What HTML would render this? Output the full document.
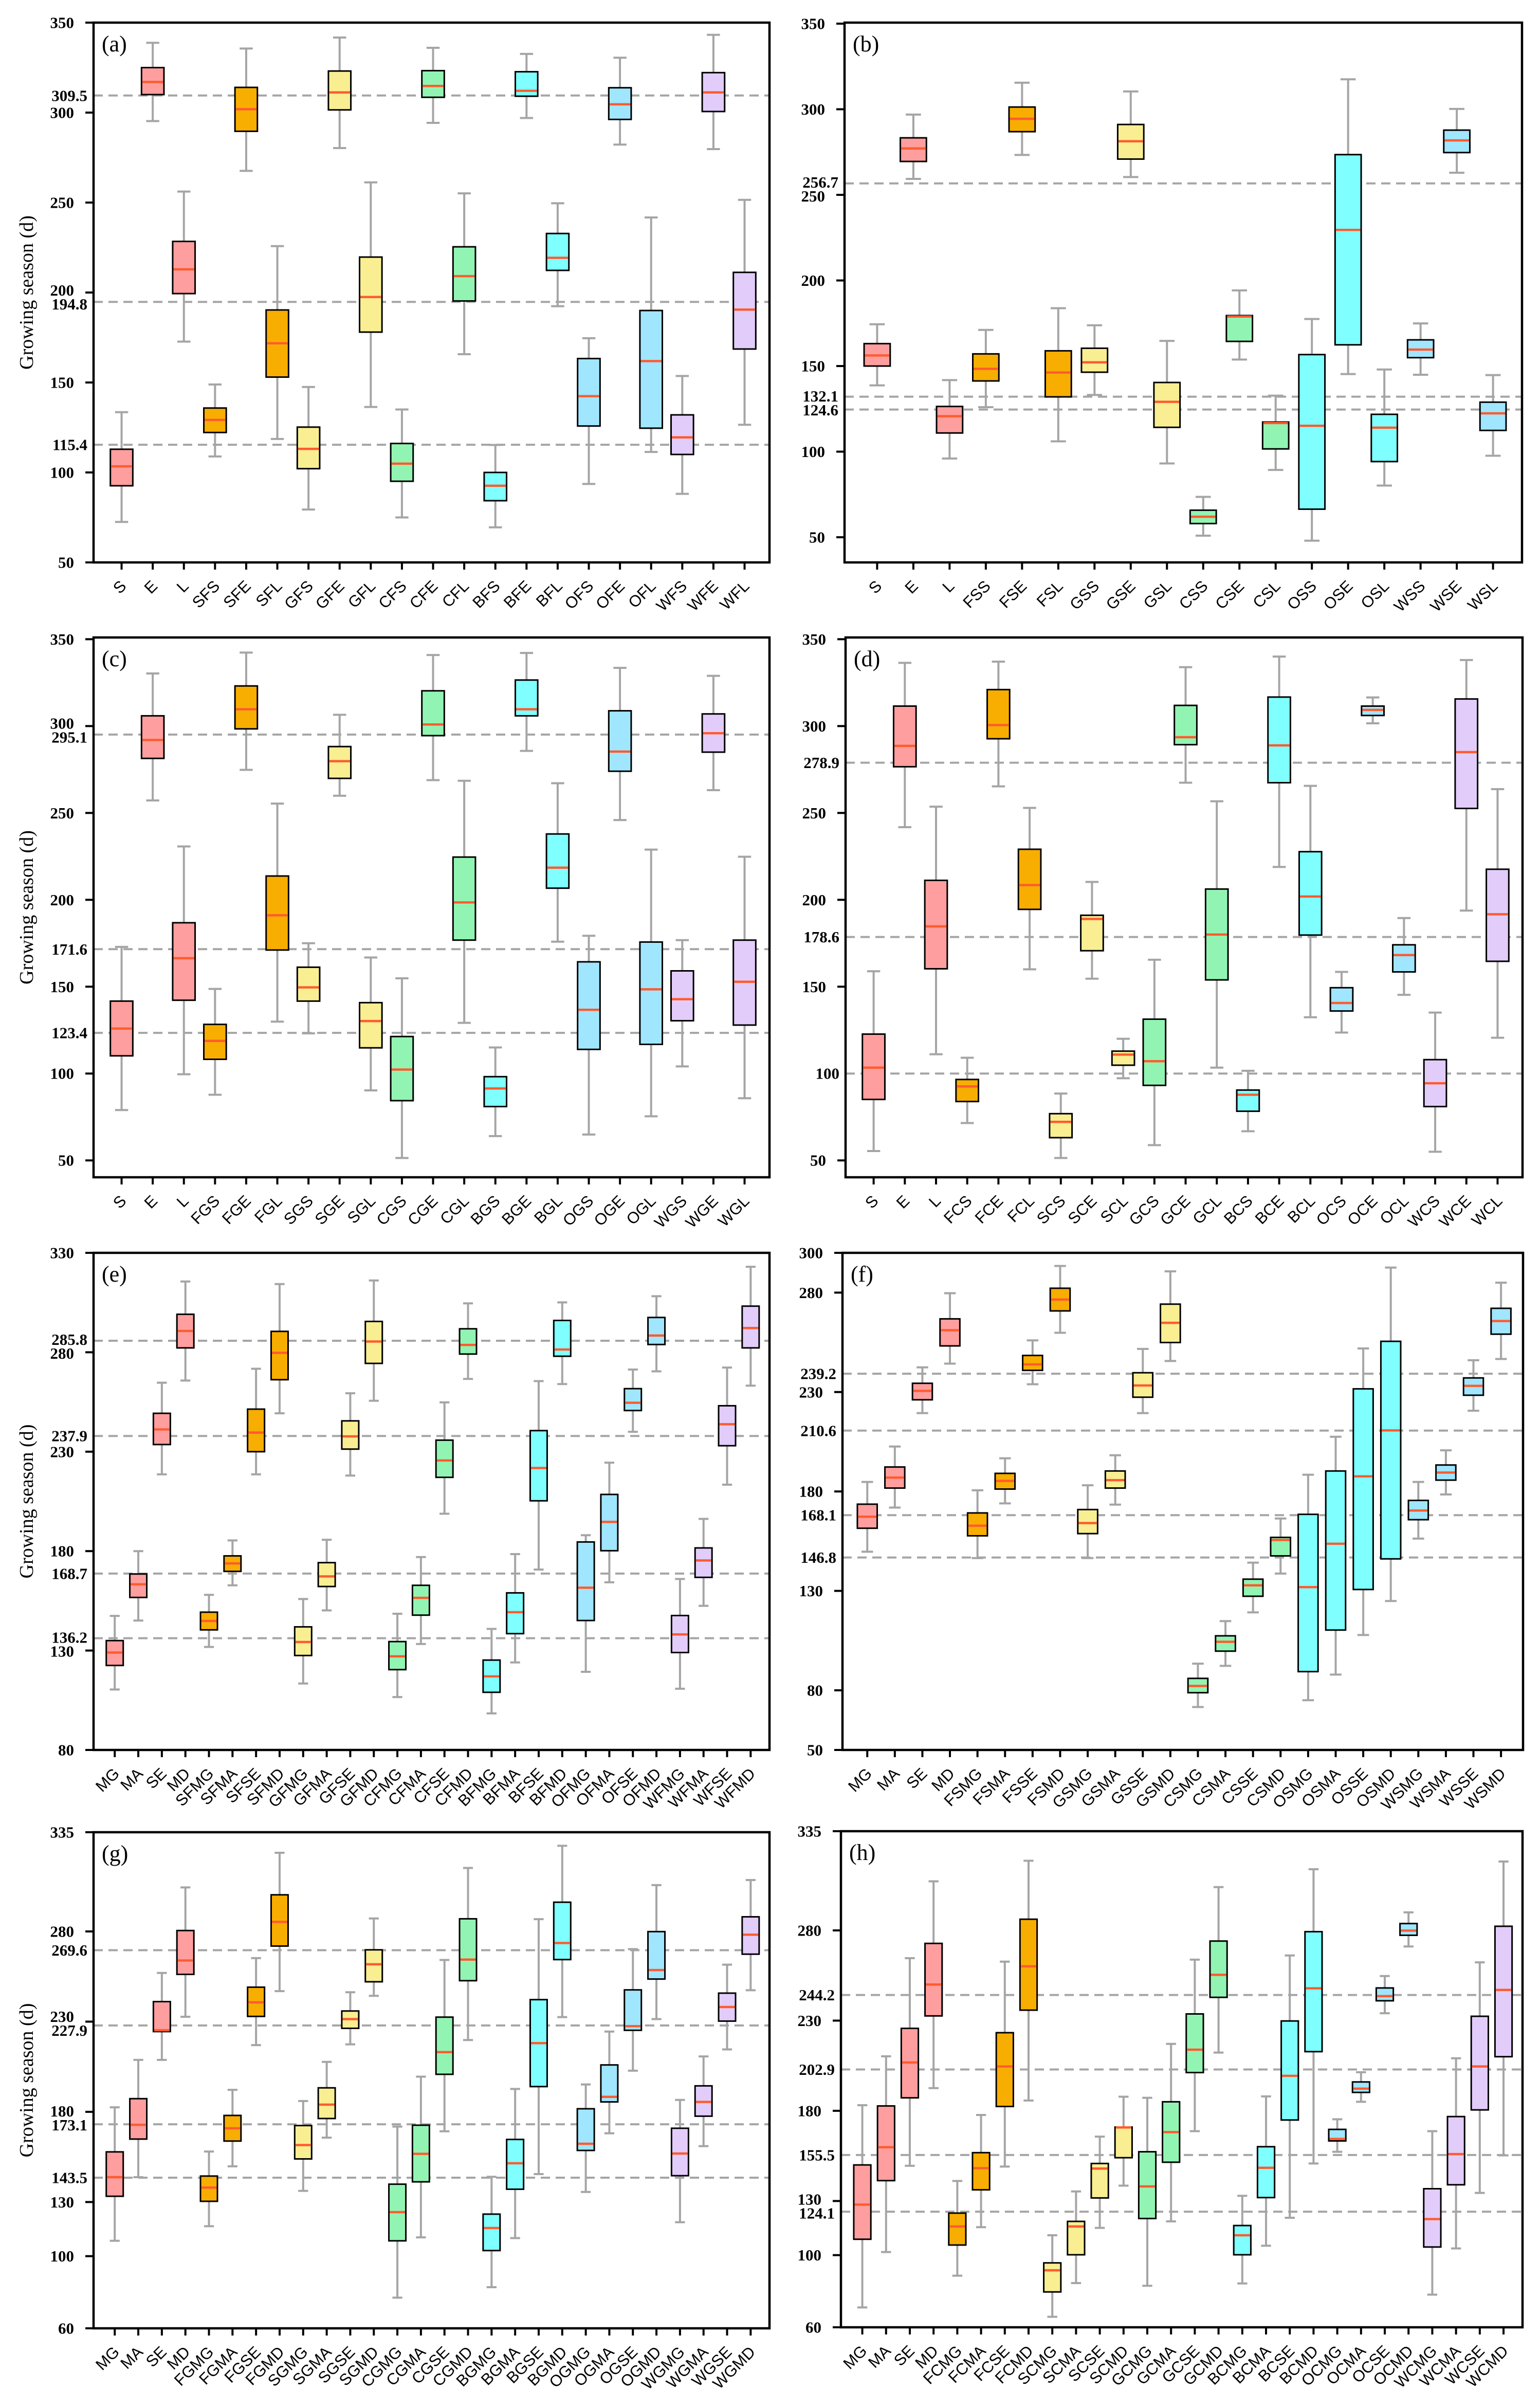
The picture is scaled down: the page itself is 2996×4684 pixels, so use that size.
<!DOCTYPE html>
<html><head><meta charset="utf-8"><title>Growing season box plots</title>
<style>
html,body{margin:0;padding:0;background:#fff;}
svg{display:block;}
.tl{font-family:"Liberation Serif",serif;font-weight:bold;font-size:31px;fill:#000;}
.xl{font-family:"Liberation Sans",sans-serif;font-size:31px;fill:#000;}
.yt{font-family:"Liberation Serif",serif;font-size:38px;fill:#000;}
.pl{font-family:"Liberation Serif",serif;font-size:44px;fill:#000;}
</style></head>
<body>
<svg id="fig" xmlns="http://www.w3.org/2000/svg" width="2996" height="4684" viewBox="0 0 2996 4684">
<rect x="0" y="0" width="2996" height="4684" fill="#fff"/>
</svg>
<script>
// ---------- Panel (a) ----------
const aCats=["S","E","L","SFS","SFE","SFL","GFS","GFE","GFL","CFS","CFE","CFL","BFS","BFE","BFL","OFS","OFE","OFL","WFS","WFE","WFL"];
const aLo =[72.5,295.3,172.7,108.9,267.6,118.6,79.4,280.3,136.4,75.0,294.3,165.7,69.5,297.0,192.4,93.6,282.2,111.4,88.1,279.7,126.5];
const aQ1 =[92.6,310.0,199.4,122.2,289.6,153.0,102.1,301.5,178.0,95.1,308.5,195.3,84.3,309.1,212.3,125.8,296.2,124.6,110.0,300.6,168.6];
const aMed=[103.4,317.0,212.9,129.2,301.9,171.8,113.1,311.2,197.5,104.9,314.8,209.1,92.6,312.1,219.3,142.4,304.6,161.9,119.5,311.2,190.5];
const aQ3 =[112.9,325.0,228.4,135.8,314.0,190.3,125.2,323.1,219.7,116.1,323.3,225.4,100.0,322.7,232.8,163.3,313.8,190.0,132.0,322.2,211.2];
const aHi =[133.5,338.8,256.1,148.9,335.6,225.8,147.5,341.7,261.2,135.0,336.0,255.1,115.3,332.6,249.6,174.6,330.5,241.7,153.6,343.2,251.5];
const aTicks=[50,100,150,200,250,300,350];
const aRefs=[309.5,194.8,115.4];
// ---------- Panel (b) ----------
const bCats=["S","E","L","FSS","FSE","FSL","GSS","GSE","GSL","CSS","CSE","CSL","OSS","OSE","OSL","WSS","WSE","WSL"];
const bLo =[138.7,259.3,96.0,126.0,273.3,106.0,133.1,260.4,93.1,50.9,153.8,89.3,48.0,145.3,80.2,144.9,262.9,97.6];
const bQ1 =[150.0,269.5,110.9,141.3,286.9,132.0,146.4,270.9,114.2,58.0,164.4,101.6,66.4,162.4,94.2,154.9,274.7,112.4];
const bMed=[156.2,277.1,120.7,148.4,294.4,146.2,152.2,281.3,129.1,62.0,178.9,116.7,115.1,229.5,114.0,159.6,281.8,122.4];
const bQ3 =[163.1,283.3,126.4,157.1,301.3,158.9,160.4,291.1,140.4,65.8,179.5,117.3,156.7,273.5,121.8,165.3,287.8,128.9];
const bHi =[174.4,296.9,141.8,171.1,315.5,183.8,173.8,310.4,164.7,73.6,194.2,132.7,177.5,317.5,148.0,174.9,300.2,144.7];
const bTicks=[50,100,150,200,250,300,350];
const bRefs=[256.7,132.1,124.6];
// ---------- Panel (c) ----------
const cCats=["S","E","L","FGS","FGE","FGL","SGS","SGE","SGL","CGS","CGE","CGL","BGS","BGE","BGL","OGS","OGE","OGL","WGS","WGE","WGL"];
const cLo =[79.0,257.2,99.6,87.8,274.8,129.9,123.1,259.9,90.3,51.4,268.9,129.2,64.0,285.7,175.9,64.9,245.9,75.4,104.1,263.1,85.8];
const cQ1 =[110.2,281.4,142.2,108.2,298.4,171.1,141.7,269.9,114.8,84.4,294.5,176.8,81.0,305.9,206.7,113.9,274.0,116.8,130.4,285.0,127.9];
const cMed=[125.9,292.0,166.4,118.8,309.7,191.1,149.6,279.8,130.2,102.3,300.9,198.5,91.4,309.7,218.5,136.7,285.3,148.5,142.8,295.9,152.8];
const cQ3 =[141.7,305.9,186.8,128.3,323.1,213.7,161.2,288.2,140.8,121.3,320.3,224.6,98.2,326.5,237.9,164.3,308.8,175.7,159.1,307.0,176.8];
const cHi =[172.9,330.3,230.7,148.7,342.3,255.4,175.0,306.5,166.8,154.8,340.9,268.5,115.0,342.1,267.1,179.3,333.5,228.9,176.8,328.9,224.8];
const cTicks=[50,100,150,200,250,300,350];
const cRefs=[295.1,171.6,123.4];
// ---------- Panel (d) ----------
const dCats=["S","E","L","FCS","FCE","FCL","SCS","SCE","SCL","GCS","GCE","GCL","BCS","BCE","BCL","OCS","OCE","OCL","WCS","WCE","WCL"];
const dLo =[55.4,241.8,111.1,71.5,265.3,160.0,51.4,154.6,97.3,58.8,267.4,103.4,66.8,218.9,132.4,123.6,301.6,145.3,55.0,193.8,120.6];
const dQ1 =[85.1,276.6,160.3,83.9,292.7,194.5,63.1,170.7,104.8,93.2,289.3,153.9,78.3,267.4,179.7,136.0,306.1,158.5,81.0,252.6,164.6];
const dMed=[103.4,288.6,184.7,92.6,300.6,208.5,72.2,189.0,110.9,107.1,293.6,180.0,87.8,288.9,201.9,140.6,309.3,168.2,94.4,285.0,191.7];
const dQ3 =[122.7,311.5,211.2,96.6,321.0,229.1,76.9,191.1,112.9,131.3,311.9,206.2,90.5,316.7,227.7,149.4,311.5,174.1,108.0,315.6,217.6];
const dHi =[158.9,336.4,253.6,109.1,337.1,252.9,88.5,210.3,120.0,165.5,333.9,256.7,101.6,340.0,265.6,158.5,316.5,189.5,135.1,338.0,263.7];
const dTicks=[50,150,200,250,300,350];
const dRefs=[278.9,178.6,100];
// ---------- Panel (e) ----------
const eCats=["MG","MA","SE","MD","SFMG","SFMA","SFSE","SFMD","GFMG","GFMA","GFSE","GFMD","CFMG","CFMA","CFSE","CFMD","BFMG","BFMA","BFSE","BFMD","OFMG","OFMA","OFSE","OFMD","WFMG","WFMA","WFSE","WFMD"];
const eLo =[110.4,145.1,218.6,265.8,131.8,162.8,218.6,249.3,113.4,150.2,218.0,255.6,106.6,133.3,198.8,266.6,98.4,124.0,170.7,264.0,119.3,164.3,240.0,270.4,110.8,152.5,213.4,263.2];
const eQ1 =[122.5,156.7,233.6,282.2,140.4,169.8,230.0,266.2,127.5,162.2,231.3,274.4,120.4,147.8,217.1,279.1,109.0,138.5,205.3,278.0,145.1,180.2,250.7,283.9,129.0,166.8,233.0,282.2];
const eMed=[129.0,163.3,241.2,290.7,144.9,173.8,239.6,279.7,134.3,167.3,237.7,285.4,127.1,156.5,225.6,283.7,117.0,149.3,221.8,281.4,161.6,194.7,254.6,288.4,138.1,175.3,243.8,292.2];
const eQ3 =[135.0,168.5,249.3,299.1,149.3,177.6,251.4,290.5,141.9,174.2,245.5,295.5,134.5,162.8,235.8,291.8,125.2,159.0,240.6,296.0,184.6,208.5,261.7,297.5,147.6,181.6,253.1,303.2];
const eHi =[147.4,180.0,264.7,315.6,158.0,185.4,271.7,314.3,155.9,185.7,259.4,316.1,148.5,177.0,254.8,304.6,140.9,178.5,265.5,305.1,188.0,224.5,271.3,308.2,166.0,196.2,272.3,323.0];
const eTicks=[80,130,180,230,280,330];
const eRefs=[285.8,237.9,168.7,136.2];
// ---------- Panel (f) ----------
const fCats=["MG","MA","SE","MD","FSMG","FSMA","FSSE","FSMD","GSMG","GSMA","GSSE","GSMD","CSMG","CSMA","CSSE","CSMD","OSMG","OSMA","OSSE","OSMD","WSMG","WSMA","WSSE","WSMD"];
const fLo =[149.7,171.9,219.4,244.3,146.5,174.0,233.9,259.8,146.5,173.4,219.4,245.6,71.6,92.3,119.2,138.7,75.0,87.9,107.8,124.9,156.3,178.5,220.6,246.6];
const fQ1 =[161.5,181.7,226.1,253.2,157.7,181.2,240.9,270.8,158.8,181.7,227.4,254.9,78.8,99.7,127.3,147.6,89.4,110.3,130.7,146.1,165.8,185.7,228.4,259.1];
const fMed=[167.3,187.0,230.6,261.1,162.8,185.3,243.9,276.5,164.1,185.7,233.3,264.8,82.2,104.4,132.8,155.6,131.9,153.7,187.6,210.7,170.4,189.5,233.1,265.7];
const fQ3 =[173.6,192.3,234.4,266.8,169.2,189.1,248.4,282.2,170.9,190.3,239.7,274.2,86.0,107.4,135.9,156.9,168.5,190.3,231.6,255.5,175.5,193.3,237.1,272.1];
const fHi =[184.8,202.6,242.4,279.7,180.6,196.7,256.0,293.4,183.1,198.2,251.7,290.7,93.4,114.8,144.2,166.4,188.4,207.5,251.9,292.6,184.8,200.7,246.0,285.0];
const fTicks=[50,80,130,180,230,280,300];
const fRefs=[239.2,210.6,168.1,146.8];
// ---------- Panel (g) ----------
const gCats=["MG","MA","SE","MD","FGMG","FGMA","FGSE","FGMD","SGMG","SGMA","SGSE","SGMD","CGMG","CGMA","CGSE","CGMD","BGMG","BGMA","BGSE","BGMD","OGMG","OGMA","OGSE","OGMD","WGMG","WGMA","WGSE","WGMD"];
const gLo =[108.5,143.8,208.8,232.7,116.6,149.8,217.0,246.9,136.2,165.7,217.4,244.3,77.0,110.4,169.2,219.8,82.8,110.0,145.5,232.5,135.6,168.1,202.8,231.4,118.8,161.0,214.6,247.4];
const gQ1 =[133.2,164.9,224.5,256.2,130.4,163.8,232.9,271.9,153.9,176.3,226.3,252.1,108.5,141.2,200.8,252.7,103.1,137.1,194.0,264.4,158.6,185.5,225.2,253.6,144.6,177.6,230.3,267.4];
const gMed=[143.8,172.8,225.2,263.9,138.0,170.9,240.7,285.3,161.6,184.0,231.4,261.8,124.4,156.7,213.1,264.4,115.6,151.5,218.1,273.6,162.3,188.3,227.5,258.6,156.9,185.5,238.1,278.2];
const gQ3 =[157.8,187.3,241.1,280.5,144.4,178.0,249.1,300.3,172.4,193.3,235.9,269.8,139.9,172.6,232.5,287.0,123.3,164.7,242.2,296.2,181.7,206.0,247.6,279.9,170.9,194.4,245.8,288.1];
const gHi =[182.5,208.8,257.0,304.4,158.0,192.2,265.2,323.6,186.0,207.7,246.3,287.2,171.8,199.5,264.2,315.2,144.0,192.7,286.8,327.5,195.2,224.5,270.2,305.7,186.6,210.7,261.6,308.5];
const gTicks=[60,100,130,180,230,280,335];
const gRefs=[269.6,227.9,173.1,143.5];
// ---------- Panel (h) ----------
const hCats=["MG","MA","SE","MD","FCMG","FCMA","FCSE","FCMD","SCMG","SCMA","SCSE","SCMD","GCMG","GCMA","GCSE","GCMD","BCMG","BCMA","BCSE","BCMD","OCMG","OCMA","OCSE","OCMD","WCMG","WCMA","WCSE","WCMD"];
const hLo =[71.0,101.7,149.5,192.6,88.6,115.5,149.1,185.7,65.8,84.5,115.1,138.5,83.0,118.7,168.7,212.3,84.3,105.2,120.7,150.8,157.3,185.0,234.1,271.1,78.1,103.7,134.5,155.3];
const hQ1 =[108.8,141.3,187.2,232.6,105.6,136.2,182.4,235.8,79.6,100.2,131.7,154.0,120.3,151.5,201.2,242.9,100.2,131.9,174.9,212.8,163.3,190.2,241.0,277.3,104.5,139.0,180.5,210.0];
const hMed=[128.0,159.8,206.8,250.0,115.9,148.2,204.6,260.1,91.6,115.9,148.0,170.8,138.1,168.2,213.9,255.4,111.0,148.4,199.4,247.9,164.4,192.3,243.6,279.9,120.0,156.0,204.6,247.0];
const hQ3 =[150.0,182.7,225.7,272.8,123.3,156.8,223.3,286.2,95.7,118.7,150.8,171.0,157.3,185.0,233.7,274.1,116.4,160.1,229.8,279.3,169.7,196.0,248.1,283.8,136.8,176.8,232.4,282.3];
const hHi =[183.1,210.2,264.6,307.2,141.1,177.7,262.7,318.6,111.0,135.3,165.7,187.8,187.2,217.1,263.8,304.0,132.9,188.0,266.1,313.9,175.3,201.4,254.7,290.0,168.7,209.1,262.3,318.2];
const hTicks=[60,100,130,180,230,280,335];
const hRefs=[244.2,202.9,155.5,124.1];

const SVGNS="http://www.w3.org/2000/svg";
const fig=document.getElementById('fig');
const PINK="#FF9E9E",ORNG="#F8AE00",YELL="#F9EE92",GRN="#92F4B2",CYAN="#7FFFFF",LBLU="#A0E6FF",LAV="#E2CCFA";
function mk(tag,attrs,parent){const e=document.createElementNS(SVGNS,tag);for(const k in attrs)e.setAttribute(k,attrs[k]);(parent||fig).appendChild(e);return e;}

const panels=[
 {id:'a',x0:182,x1:1497,y0:44,y1:1094,lo:50,hi:350,cats:aCats,L:aLo,Q1:aQ1,M:aMed,Q3:aQ3,H:aHi,ticks:aTicks,refs:aRefs,colors:[PINK,PINK,PINK,ORNG,ORNG,ORNG,YELL,YELL,YELL,GRN,GRN,GRN,CYAN,CYAN,CYAN,LBLU,LBLU,LBLU,LAV,LAV,LAV],ylab:true},
 {id:'b',x0:1643,x1:2961,y0:44,y1:1094,lo:35.3,hi:350.6,cats:bCats,L:bLo,Q1:bQ1,M:bMed,Q3:bQ3,H:bHi,ticks:bTicks,refs:bRefs,colors:[PINK,PINK,PINK,ORNG,ORNG,ORNG,YELL,YELL,YELL,GRN,GRN,GRN,CYAN,CYAN,CYAN,LBLU,LBLU,LBLU],ylab:false},
 {id:'c',x0:182,x1:1497,y0:1240,y1:2290,lo:40.3,hi:351,cats:cCats,L:cLo,Q1:cQ1,M:cMed,Q3:cQ3,H:cHi,ticks:cTicks,refs:cRefs,colors:[PINK,PINK,PINK,ORNG,ORNG,ORNG,YELL,YELL,YELL,GRN,GRN,GRN,CYAN,CYAN,CYAN,LBLU,LBLU,LBLU,LAV,LAV,LAV],ylab:true},
 {id:'d',x0:1645,x1:2962,y0:1240,y1:2290,lo:40.3,hi:351,cats:dCats,L:dLo,Q1:dQ1,M:dMed,Q3:dQ3,H:dHi,ticks:dTicks,refs:dRefs,colors:[PINK,PINK,PINK,ORNG,ORNG,ORNG,YELL,YELL,YELL,GRN,GRN,GRN,CYAN,CYAN,CYAN,LBLU,LBLU,LBLU,LAV,LAV,LAV],ylab:false},
 {id:'e',x0:182,x1:1497,y0:2437,y1:3404,lo:80,hi:330,cats:eCats,L:eLo,Q1:eQ1,M:eMed,Q3:eQ3,H:eHi,ticks:eTicks,refs:eRefs,colors:[PINK,PINK,PINK,PINK,ORNG,ORNG,ORNG,ORNG,YELL,YELL,YELL,YELL,GRN,GRN,GRN,GRN,CYAN,CYAN,CYAN,CYAN,LBLU,LBLU,LBLU,LBLU,LAV,LAV,LAV,LAV],ylab:true},
 {id:'f',x0:1639,x1:2963,y0:2437,y1:3404,lo:50,hi:300,cats:fCats,L:fLo,Q1:fQ1,M:fMed,Q3:fQ3,H:fHi,ticks:fTicks,refs:fRefs,colors:[PINK,PINK,PINK,PINK,ORNG,ORNG,ORNG,ORNG,YELL,YELL,YELL,YELL,GRN,GRN,GRN,GRN,CYAN,CYAN,CYAN,CYAN,LBLU,LBLU,LBLU,LBLU],ylab:false},
 {id:'g',x0:182,x1:1497,y0:3564,y1:4529,lo:60,hi:335,cats:gCats,L:gLo,Q1:gQ1,M:gMed,Q3:gQ3,H:gHi,ticks:gTicks,refs:gRefs,colors:[PINK,PINK,PINK,PINK,ORNG,ORNG,ORNG,ORNG,YELL,YELL,YELL,YELL,GRN,GRN,GRN,GRN,CYAN,CYAN,CYAN,CYAN,LBLU,LBLU,LBLU,LBLU,LAV,LAV,LAV,LAV],ylab:true},
 {id:'h',x0:1636,x1:2962,y0:3562,y1:4527,lo:60,hi:335,cats:hCats,L:hLo,Q1:hQ1,M:hMed,Q3:hQ3,H:hHi,ticks:hTicks,refs:hRefs,colors:[PINK,PINK,PINK,PINK,ORNG,ORNG,ORNG,ORNG,YELL,YELL,YELL,YELL,GRN,GRN,GRN,GRN,CYAN,CYAN,CYAN,CYAN,LBLU,LBLU,LBLU,LBLU,LAV,LAV,LAV,LAV],ylab:false}
];

panels.forEach(p=>{
  const g=mk('g',{});
  
  
  const n=p.cats.length;
  const sp=(p.x1-p.x0)/(n-1+1.7);
  const xs=i=>p.x0+0.9*sp+i*sp;
  const ys=v=>p.y1-(v-p.lo)/(p.hi-p.lo)*(p.y1-p.y0);
  // collect y labels and resolve overlaps
  const labels=[];
  p.refs.forEach(r=>labels.push({v:r,y:ys(r),ref:true}));
  p.ticks.forEach(v=>labels.push({v:v,y:ys(v),ref:false}));
  labels.sort((a,b)=>a.y-b.y);
  const gap=27;
  for(let k=1;k<labels.length;k++){
    const d=labels[k].y-labels[k-1].y;
    if(d<gap){const s=(gap-d)/2;labels[k-1].y-=s;labels[k].y+=s;}
  }
  // reference dashed lines
  p.refs.forEach(r=>{
    const l=mk('line',{x1:p.x0,x2:p.x1,y1:ys(r),y2:ys(r),stroke:'#A5A5A5','stroke-width':4,'stroke-dasharray':'18 11'},g);
    
    
  });
  // boxes
  const bw=0.72*sp, cw=0.42*sp;
  for(let i=0;i<n;i++){
    const x=xs(i);
    const bg=mk('g',{},g);
    
    
    mk('line',{x1:x,x2:x,y1:ys(p.H[i]),y2:ys(p.Q3[i]),stroke:'#A5A5A5','stroke-width':4},bg);
    mk('line',{x1:x,x2:x,y1:ys(p.Q1[i]),y2:ys(p.L[i]),stroke:'#A5A5A5','stroke-width':4},bg);
    mk('line',{x1:x-cw/2,x2:x+cw/2,y1:ys(p.H[i]),y2:ys(p.H[i]),stroke:'#A5A5A5','stroke-width':4},bg);
    mk('line',{x1:x-cw/2,x2:x+cw/2,y1:ys(p.L[i]),y2:ys(p.L[i]),stroke:'#A5A5A5','stroke-width':4},bg);
    mk('rect',{x:x-bw/2,y:ys(p.Q3[i]),width:bw,height:Math.max(1,ys(p.Q1[i])-ys(p.Q3[i])),fill:p.colors[i],stroke:'#000','stroke-width':3},bg);
    mk('line',{x1:x-bw/2+1.5,x2:x+bw/2-1.5,y1:ys(p.M[i]),y2:ys(p.M[i]),stroke:'#FF5B2E','stroke-width':4.5},bg);
    mk('line',{x1:x,x2:x,y1:p.y1,y2:p.y1+14,stroke:'#000','stroke-width':4},g);
    const ax=x+11, ay=p.y1+48;
    const t=mk('text',{x:ax,y:ay,'text-anchor':'end',class:'xl',transform:'rotate(-45 '+ax+' '+ay+')'},g);
    t.textContent=p.cats[i];
    
    
  }
  // y ticks + labels
  p.ticks.forEach(v=>{
    mk('line',{x1:p.x0-16,x2:p.x0,y1:ys(v),y2:ys(v),stroke:'#000','stroke-width':4},g);
  });
  labels.forEach(lb=>{
    const t=mk('text',{x:lb.ref?p.x0-12:p.x0-38,y:lb.y,'text-anchor':'end','dominant-baseline':'central',class:'tl'},g);
    t.textContent=String(lb.v);
    
    
  });
  const fr=mk('rect',{x:p.x0,y:p.y0,width:p.x1-p.x0,height:p.y1-p.y0,fill:'none',stroke:'#000','stroke-width':4.5},g);
  
  
  const pl=mk('text',{x:p.x0+16,y:p.y0+56,class:'pl'},g);
  pl.textContent='('+p.id+')';
  
  
  if(p.ylab){
    const cy=(p.y0+p.y1)/2;
    const yt=mk('text',{x:52,y:cy,'text-anchor':'middle','dominant-baseline':'central',class:'yt',transform:'rotate(-90 52 '+cy+')'},g);
    yt.textContent='Growing season (d)';
    
    
  }
});
</script>
</body></html>
